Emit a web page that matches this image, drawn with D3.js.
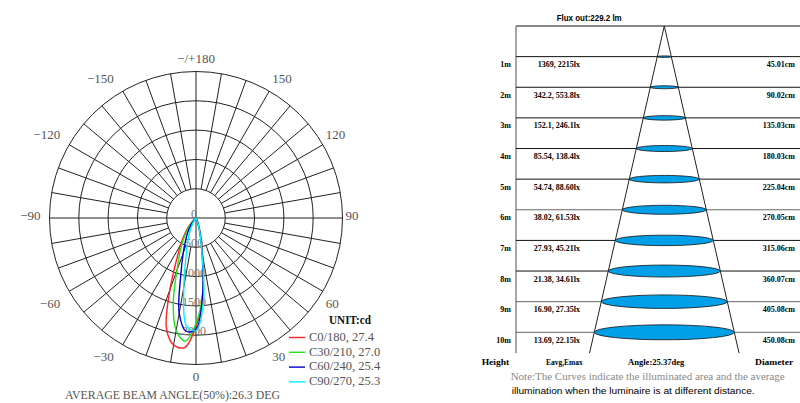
<!DOCTYPE html>
<html><head><meta charset="utf-8">
<script src="https://cdn.jsdelivr.net/npm/d3@7"></script>
<style>body{margin:0;background:#fff;} svg{display:block}</style>
</head><body><svg id="c" width="800" height="403"></svg>
<script>
// ---------- Polar data ----------
const gammaAngles = [-50,-45,-40,-35,-30,-25,-20,-15,-10,-5,0,5,10,15,20,25,30,35,40,45,50];
const seriesNames = ["C0/180, 27.4","C30/210, 27.0","C60/240, 25.4","C90/270, 25.3"];
const seriesColors = ["#ff2020","#20e020","#0000d0","#00f0ff"];
const c0   = [0,90,200,340,520,780,1300,1950,2200,2220,1850,1350,650,300,120,40,10,0,0,0,0];
const c30  = [0,70,150,280,440,650,950,1500,1950,2110,1800,1300,600,260,100,35,10,0,0,0,0];
const c60  = [0,30,80,160,280,420,640,1000,1650,1940,1900,1300,600,260,100,35,10,0,0,0,0];
const c90  = [0,10,30,60,120,230,400,640,1200,1850,1920,1450,580,250,100,40,10,0,0,0,0];
const ringValues = [500,1000,1500,2000,2500];
const ringLabels = ["0","500","1000","1500","2000"];
const ringLabelValues = [0,500,1000,1500,2000];
const angleTicks = [180,150,120,90,60,30,0,-30,-60,-90,-120,-150];
const angleTickLabels = ["\u2212/+180","150","120","90","60","30","0","\u221230","\u221260","\u221290","\u2212120","\u2212150"];
const beamTitle = "AVERAGE BEAM ANGLE(50%):26.3 DEG";

// ---------- Illuminance data ----------
const heightLabels = ["1m","2m","3m","4m","5m","6m","7m","8m","9m","10m"];
const heights = [1,2,3,4,5,6,7,8,9,10];
const eavg = ["1369","342.2","152.1","85.54","54.74","38.02","27.93","21.38","16.90","13.69"];
const emax = ["2215","553.8","246.1","138.4","88.60","61.53","45.21","34.61","27.35","22.15"];
const diameters = [45.01,90.02,135.03,180.03,225.04,270.05,315.06,360.07,405.08,450.08];
const beamAngle = 25.37;
const fluxTitle = "Flux out:229.2 lm";
const footLabels = ["Height","Eavg,Emax","Angle:25.37deg","Diameter"];
const note1 = "Note:The Curves indicate the illuminated area and the average";
const note2 = "illumination when the luminaire is at different distance.";

const svg = d3.select("#c");
const serif = "'Liberation Serif','DejaVu Serif',serif";

// ================= POLAR =================
const cx = 196, cy = 218, R = 146.5;
const r = d3.scaleLinear().domain([0,2500]).range([0,R]);
const gP = svg.append("g").attr("transform",`translate(${cx},${cy})`);
const rad = d => d*Math.PI/180;

// rings
gP.selectAll("circle.ring").data(ringValues).enter().append("circle")
  .attr("r", d=>r(d)).attr("fill","none").attr("stroke","#222").attr("stroke-width",1);
// spokes
const spokes = d3.range(0,360,10);
gP.selectAll("line.spoke").data(spokes).enter().append("line")
  .attr("x1", d => (d%90===0?0:r(500))*Math.sin(rad(d)))
  .attr("y1", d => (d%90===0?0:r(500))*Math.cos(rad(d)))
  .attr("x2", d => R*Math.sin(rad(d)))
  .attr("y2", d => R*Math.cos(rad(d)))
  .attr("stroke","#222").attr("stroke-width",1);

// ring labels
gP.selectAll("text.rl").data(ringLabelValues).enter().append("text")
  .attr("x",-2).attr("y", d=>r(d)).attr("text-anchor","middle")
  .attr("font-family",serif).attr("font-size",12).attr("fill","#777")
  .text((d,i)=>ringLabels[i]);

// curves
const seriesData = [c0,c30,c60,c90];
const line = d3.lineRadial()
  .angle(d => Math.PI - rad(d[0]))
  .radius(d => r(d[1]))
  .curve(d3.curveCatmullRom.alpha(0.5));
seriesData.forEach((s,i)=>{
  gP.append("path").datum(gammaAngles.map((a,j)=>[a,s[j]]))
    .attr("d", line).attr("fill","none").attr("stroke",seriesColors[i]).attr("stroke-width",1.4);
});

// angle labels
angleTicks.forEach((a,i)=>{
  const ox = R*Math.sin(rad(a)), oy = R*Math.cos(rad(a));
  let anchor="middle", x=ox, y;
  if (a===0) y = oy+12; else if (a===180) y = oy-13;
  else {
    if (a>0){anchor="start"; x=ox+3;} else {anchor="end"; x=ox-9;}
    const aa=Math.abs(a);
    y = aa>90 ? oy-(aa===150?13:10) : (aa===90 ? oy-3 : oy+12);
  }
  gP.append("text").attr("x",x).attr("y",y).attr("dy","0.35em").attr("text-anchor",anchor)
    .attr("font-family",serif).attr("font-size",13).attr("fill","#555").text(angleTickLabels[i]);
});

// legend
svg.append("text").attr("x",350).attr("y",320).attr("dy","0.35em").attr("text-anchor","middle")
  .attr("font-family",serif).attr("font-size",12).attr("font-weight","bold").attr("fill","#111")
  .attr("textLength",42).attr("lengthAdjust","spacingAndGlyphs").text("UNIT:cd");
seriesNames.forEach((n,i)=>{
  const y = 336.5 + i*14.8;
  svg.append("line").attr("x1",289).attr("x2",305).attr("y1",y+1).attr("y2",y+1)
    .attr("stroke",seriesColors[i]).attr("stroke-width",1.4);
  svg.append("text").attr("x",309).attr("y",y).attr("dy","0.35em")
    .attr("font-family",serif).attr("font-size",12.5).attr("fill","#555").text(n);
});
svg.append("text").attr("x",65).attr("y",394).attr("dy","0.35em")
  .attr("font-family",serif).attr("font-size",13).attr("fill","#555")
  .attr("textLength",215).attr("lengthAdjust","spacingAndGlyphs").text(beamTitle);

// ================= ILLUMINANCE CONE =================
const y = d3.scaleLinear().domain([0,10]).range([26,332.3]);
const m = d3.scaleLinear().domain([0,1]).range([0,31.1]); // metres -> px horizontally
const ax = 664.3, boxL = 516, boxR = 800, bottomH = 10.68;
const gR = svg.append("g");
const halfTan = Math.tan(rad(beamAngle/2));

gR.append("text").attr("x",556.7).attr("y",20.5).attr("font-family","'Liberation Sans',Arial,sans-serif")
  .attr("font-size",8.5).attr("font-weight","bold").attr("fill","#000")
  .attr("textLength",65).attr("lengthAdjust","spacingAndGlyphs").text(fluxTitle);

// box lines
gR.append("line").attr("x1",boxL).attr("x2",boxR).attr("y1",y(0)).attr("y2",y(0)).attr("stroke","#111");
gR.append("line").attr("x1",boxL).attr("x2",boxL).attr("y1",y(0)).attr("y2",y(bottomH)).attr("stroke","#777").attr("stroke-width",1.3);
gR.selectAll("line.h").data(heights).enter().append("line")
  .attr("x1",boxL).attr("x2",boxR).attr("y1",d=>y(d)).attr("y2",d=>y(d))
  .attr("stroke",(d,i)=> (d===6||d>=9)?"#666":"#111").attr("stroke-width",1);

// cone
[-1,1].forEach(s=>{
  gR.append("line").attr("x1",ax).attr("y1",y(0))
    .attr("x2",ax + s*m(halfTan*bottomH)).attr("y2",y(bottomH))
    .attr("stroke","#222").attr("stroke-width",1);
});
// ellipses
gR.selectAll("ellipse").data(diameters).enter().append("ellipse")
  .attr("cx",ax).attr("cy",(d,i)=>y(heights[i]))
  .attr("rx",d=>m(d/200)).attr("ry",d=>m(d/200)*0.107)
  .attr("fill","#00a0e9").attr("stroke","#111").attr("stroke-width",0.8);

// row texts
const tf = "'Liberation Serif','DejaVu Serif',serif";
heights.forEach((h,i)=>{
  const ty = y(h)+10.5;
  gR.append("text").attr("x",511).attr("y",ty).attr("text-anchor","end")
    .attr("font-family",tf).attr("font-size",8).attr("font-weight","bold").text(heightLabels[i]);
  gR.append("text").attr("x",580).attr("y",ty).attr("text-anchor","end")
    .attr("font-family",tf).attr("font-size",8).attr("font-weight","bold").text(`${eavg[i]}, ${emax[i]}lx`);
  gR.append("text").attr("x",795).attr("y",ty).attr("text-anchor","end")
    .attr("font-family",tf).attr("font-size",8).attr("font-weight","bold").text(diameters[i].toFixed(2)+"cm");
});
// footer labels
const footX = [481.7,546,628,755], footW = [27.6,36.7,56.3,38.3];
footLabels.forEach((t,i)=>{
  gR.append("text").attr("x",footX[i]).attr("y",365).attr("font-family",tf).attr("font-size",8)
    .attr("font-weight","bold").attr("textLength",footW[i]).attr("lengthAdjust","spacingAndGlyphs").text(t);
});
gR.append("text").attr("x",510.7).attr("y",380).attr("font-family",tf).attr("font-size",9.5).attr("fill","#888")
  .attr("textLength",274).attr("lengthAdjust","spacingAndGlyphs").text(note1);
gR.append("text").attr("x",511.7).attr("y",393.5).attr("font-family","'Liberation Sans',Arial,sans-serif")
  .attr("font-size",9.5).attr("fill","#000")
  .attr("textLength",243).attr("lengthAdjust","spacingAndGlyphs").text(note2);
</script></body></html>
